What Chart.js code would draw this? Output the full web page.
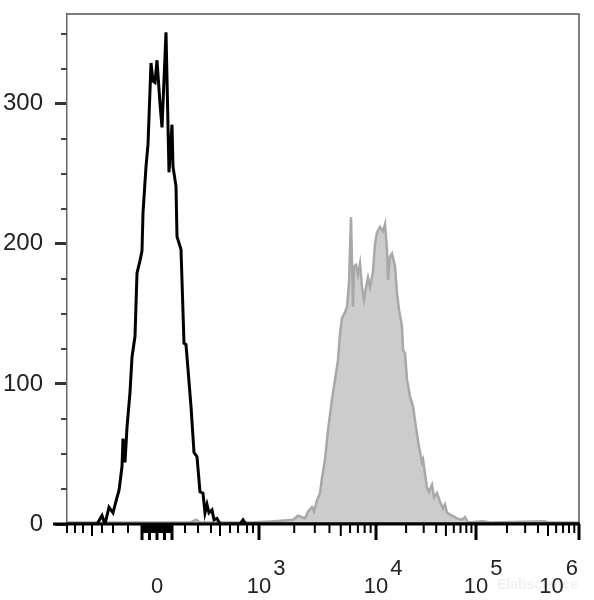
<!DOCTYPE html>
<html><head><meta charset="utf-8">
<script src="https://cdn.jsdelivr.net/npm/chart.js@4/dist/chart.umd.min.js"></script>
<style>html,body{margin:0;padding:0;background:#fff;}#wrap{width:594px;height:600px;position:relative;}</style>
</head><body><div id="wrap"><canvas id="c" width="594" height="600"></canvas></div>
<script>
// ---- data (x in display channels 0..1024 of the biexponential axis, y = count) ----
const controlX = [0,60,70,76,84,92,100,104,110,112,116,120,126,130,136,140,146,150,152,158,162,168,172,176,180,186,190,198,204,210,212,218,220,228,234,238,248,254,260,266,272,276,280,284,290,294,300,306,346,352,358,1024];
const controlY = [0,0,6,0,12,8,19,24,41,61,44,69,94,119,134,179,188,195,222,255,271,329,316,315,331,300,283,351,251,285,255,241,205,196,129,128,84,51,48,23,22,8,14,8,10,3,4,0,0,3,0,0];
const stainedX = [0,66,166,246,258,266,366,416,452,462,476,482,490,494,500,506,510,516,522,530,536,542,546,550,556,560,564,568,572,574,578,582,586,590,594,598,602,606,612,616,620,626,632,636,640,642,646,650,656,660,664,670,672,676,680,686,692,698,704,710,712,720,724,730,734,740,746,752,756,760,770,780,790,796,802,832,846,956,962,1024];
const stainedY = [1,1,1,1,3,1,1,2,3,6,4,9,12,9,17,22,33,46,67,89,103,117,136,147,151,155,172,219,155,184,185,178,186,169,160,169,176,169,180,200,208,212,209,214,196,174,191,193,184,165,153,141,124,122,103,91,84,69,55,44,46,26,23,28,19,22,16,11,14,8,6,4,3,5,1,2,1,2,1,1];
const yTickValues = [0,100,200,300];
const yMinorStep = 25;
const xZeroChannel = 180;
const xDecadeExponents = [3,4,5,6];
const xDecadeChannels = [384,618,818,1024];
const xLinearTickChannels = [0,16,32,50,70,92,122,236,262,288,306,326,342,360,372];
const xLinearMidTicks = [50,306];
const xLabelBase = ['0','10','10','10','10'];
const xLabelExp = ['','3','4','5','6'];
const watermark = 'Elabscience';

const FONT = '"Liberation Sans", Arial, sans-serif';

const axisPlugin = {
  id: 'flowAxes',
  afterDraw(chart) {
    const ctx = chart.ctx, xs = chart.scales.x, ys = chart.scales.y, ca = chart.chartArea;
    const y0 = ys.getPixelForValue(0);
    ctx.save();
    ctx.strokeStyle = '#555'; ctx.lineWidth = 1.5;
    ctx.beginPath(); ctx.moveTo(ca.left, ca.top); ctx.lineTo(ca.right, ca.top); ctx.lineTo(ca.right, y0); ctx.stroke();
    ctx.strokeStyle = '#444'; ctx.lineWidth = 2;
    for (let v = yMinorStep; v <= ys.max; v += yMinorStep) {
      if (v % 100 === 0) continue;
      const p = Math.round(ys.getPixelForValue(v));
      ctx.beginPath(); ctx.moveTo(ca.left - 6, p); ctx.lineTo(ca.left, p); ctx.stroke();
    }
    const ticks = [];
    xLinearTickChannels.forEach(c => ticks.push({c, t: xLinearMidTicks.includes(c) ? 'mid' : 'short'}));
    for (let v = -100; v <= 100; v += 10) {
      ticks.push({c: xZeroChannel + v * 0.3, t: (v % 50 === 0) ? 'long' : 'short'});
    }
    for (let i = 0; i < xDecadeChannels.length - 1; i++) {
      const a = xDecadeChannels[i], b = xDecadeChannels[i + 1];
      for (let k = 1; k <= 9; k++) {
        ticks.push({c: a + Math.log10(k) * (b - a), t: k === 1 ? 'long' : (k === 5 ? 'mid' : 'short')});
      }
    }
    ticks.push({c: xDecadeChannels[xDecadeChannels.length - 1], t: 'long'});
    ctx.strokeStyle = '#000';
    ticks.forEach(tk => {
      const p = xs.getPixelForValue(tk.c);
      const len = tk.t === 'long' ? 16 : (tk.t === 'mid' ? 12 : 9);
      ctx.lineWidth = tk.t === 'long' ? 3 : 2;
      ctx.beginPath(); ctx.moveTo(p, y0); ctx.lineTo(p, y0 + len); ctx.stroke();
    });
    ctx.lineWidth = 3; ctx.strokeStyle = '#000';
    ctx.beginPath(); ctx.moveTo(ca.left - 14, y0); ctx.lineTo(ca.right + 1, y0); ctx.stroke();
    ctx.fillStyle = '#222'; ctx.font = '22px ' + FONT; ctx.textBaseline = 'alphabetic';
    const labelCh = [xZeroChannel].concat(xDecadeChannels);
    labelCh.forEach((c, i) => {
      const p = xs.getPixelForValue(c);
      const base = xLabelBase[i], ex = xLabelExp[i];
      const wb = ctx.measureText(base).width, we = ex ? ctx.measureText(ex).width + 2 : 0;
      let left = p - wb / 2;
      if (left + wb + we > chart.width - 16) left = chart.width - 16 - wb - we;
      ctx.textAlign = 'left';
      ctx.fillText(base, left, 593);
      if (ex) ctx.fillText(ex, left + wb + 2, 575);
    });
    ctx.fillStyle = 'rgba(0,0,0,0.06)'; ctx.font = 'bold 14px ' + FONT;
    ctx.fillText(watermark, 497, 589);
    ctx.restore();
  }
};

new Chart(document.getElementById('c'), {
  type: 'line',
  data: {
    datasets: [
      { label: 'Control', data: controlX.map((x, i) => ({x, y: controlY[i]})),
        borderColor: '#000', borderWidth: 3, pointRadius: 0, fill: false, tension: 0 },
      { label: 'Stained', data: stainedX.map((x, i) => ({x, y: stainedY[i]})),
        borderColor: '#a8a8a8', backgroundColor: '#cccccc', borderWidth: 2.5, pointRadius: 0, fill: 'origin', tension: 0 }
    ]
  },
  options: {
    responsive: false, animation: false, devicePixelRatio: 1,
    layout: { padding: { left: 0, top: 14, right: 15, bottom: 76 } },
    plugins: { legend: { display: false }, tooltip: { enabled: false } },
    scales: {
      x: { type: 'linear', min: 0, max: 1024, display: false },
      y: {
        min: 0, max: 364,
        afterBuildTicks(s) { s.ticks = yTickValues.map(v => ({value: v})); },
        afterFit(s) { s.width = 67; s.paddingTop = 0; s.paddingBottom = 0; },
        ticks: { font: { size: 24, family: FONT }, color: '#222', padding: 12 },
        grid: { drawOnChartArea: false, tickLength: 12, tickWidth: 3, tickColor: '#333' },
        border: { color: '#666', width: 1.5 }
      }
    }
  },
  plugins: [axisPlugin]
});
</script></body></html>
